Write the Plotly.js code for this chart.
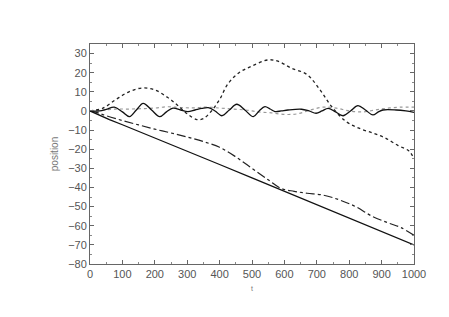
<!DOCTYPE html>
<html>
<head>
<meta charset="utf-8">
<script src="https://cdn.plot.ly/plotly-3.0.1.min.js"></script>
<style>html,body{margin:0;padding:0;background:#fff}#chart{width:449px;height:317px}</style>
</head>
<body>
<div id="chart"></div>
<script>
// Straight solid line
const tLine = [0, 30, 60, 100, 200, 300, 400, 500, 600, 700, 800, 900, 1000];
const yLine = [0, -2.4, -4.5, -7.2, -14, -21, -28, -35, -42, -49, -56, -63, -70];

// Dash-dot line
const tDashDot = [0, 25, 50, 100, 150, 200, 250, 300, 350, 400, 450, 500, 550, 590, 630, 670, 720, 770, 820, 870, 920, 960, 1000];
const yDashDot = [0, -1, -2.5, -5, -7.3, -9.5, -11.5, -13.6, -16, -19, -24, -30, -36, -40.5, -42, -43, -44, -46.5, -50, -55, -58.5, -61, -65];

// Dashed line (large excursions)
const tDash = [0, 40, 80, 120, 160, 200, 240, 270, 300, 330, 350, 375, 400, 425, 460, 500, 550, 580, 620, 670, 710, 745, 790, 830, 875, 910, 950, 985, 1000];
const yDash = [0, 1.5, 6, 10, 12, 11, 7, 3, -1.5, -4.5, -4, 0, 6, 14, 20, 23.5, 26.7, 26, 22.5, 19, 11, 2.5, -5.5, -9, -11.7, -14, -18, -21, -25];

// Oscillating solid line
const tOsc = [0, 30, 50, 75, 100, 122, 143, 164, 190, 215, 236, 256, 280, 302, 324, 345, 365, 386, 407, 430, 453, 478, 504, 522, 540, 556, 571, 590, 611, 653, 676, 698, 716, 735, 758, 781, 804, 827, 850, 873, 890, 904, 945, 975, 1000];
const yOsc = [0, 0, 0.8, 2, -0.5, -3, 0.5, 4, 0.5, -3, -0.5, 1.5, 0.5, -0.3, 0.5, 1.3, 1.7, 0, -2.5, 0.5, 3.5, 0.5, -3, 0, 2.3, 1, -0.3, 0, 0.5, 0.9, 0, -1.2, 0, 1.4, -0.5, -2.5, 0, 2.8, 0.5, -2.1, -0.5, 0.5, 0.5, 0, -0.7];

// Dotted line (small excursions)
const tDot = [0, 40, 80, 120, 160, 200, 240, 280, 320, 360, 400, 440, 480, 520, 560, 600, 640, 680, 720, 760, 800, 840, 880, 920, 960, 1000];
const yDot = [0, 0.5, 1, 1, 1.2, 1.5, 2.2, 1.8, 1.6, 2, 1.5, 1, 0.5, -0.5, -1, -1.8, -1.5, 0.5, 2, 1.5, 0, -0.5, 0.5, 1.5, 2, 2];

const xTicks = [0, 100, 200, 300, 400, 500, 600, 700, 800, 900, 1000];
const yTicks = [30, 20, 10, 0, -10, -20, -30, -40, -50, -60, -70, -80];

const traces = [
  {x: tDot, y: yDot, mode: 'lines', line: {color: '#999', width: 1.2, dash: 'dot', shape: 'spline'}},
  {x: tOsc, y: yOsc, mode: 'lines', line: {color: '#111', width: 1.3, shape: 'spline'}},
  {x: tDash, y: yDash, mode: 'lines', line: {color: '#222', width: 1.3, dash: '3px,3px', shape: 'spline'}},
  {x: tDashDot, y: yDashDot, mode: 'lines', line: {color: '#222', width: 1.2, dash: 'dashdot', shape: 'spline'}},
  {x: tLine, y: yLine, mode: 'lines', line: {color: '#111', width: 1.3}}
];

const axisFont = {family: 'Liberation Sans, Arial, sans-serif', size: 11, color: '#555'};

const layout = {
  width: 449, height: 317,
  margin: {l: 90, r: 35, t: 44, b: 53},
  paper_bgcolor: '#fff', plot_bgcolor: '#fff',
  showlegend: false,
  xaxis: {
    range: [0, 1000], tickvals: xTicks, ticktext: xTicks.map(String),
    ticks: 'inside', ticklen: 4, tickcolor: '#666', showgrid: false, zeroline: false,
    showline: true, linecolor: '#666', linewidth: 1, mirror: 'allticks',
    minor: {ticks: 'inside', dtick: 50, ticklen: 2, tickcolor: '#888'},
    tickfont: axisFont,
    title: {text: 't', font: {family: 'Liberation Sans, Arial, sans-serif', size: 7, color: '#777'}, standoff: 6}
  },
  yaxis: {
    range: [-80, 35], tickvals: yTicks, ticktext: yTicks.map(v => v < 0 ? '\u2212' + Math.abs(v) : String(v)),
    ticks: 'inside', ticklen: 4, tickcolor: '#666', showgrid: false, zeroline: false,
    showline: true, linecolor: '#666', linewidth: 1, mirror: 'allticks',
    minor: {ticks: 'inside', dtick: 5, ticklen: 2, tickcolor: '#888'},
    tickfont: axisFont,
    title: {text: 'position', font: {family: 'Liberation Sans, Arial, sans-serif', size: 10, color: '#777'}, standoff: 7}
  }
};

Plotly.newPlot('chart', traces, layout, {staticPlot: true, displayModeBar: false});
</script>
</body>
</html>
